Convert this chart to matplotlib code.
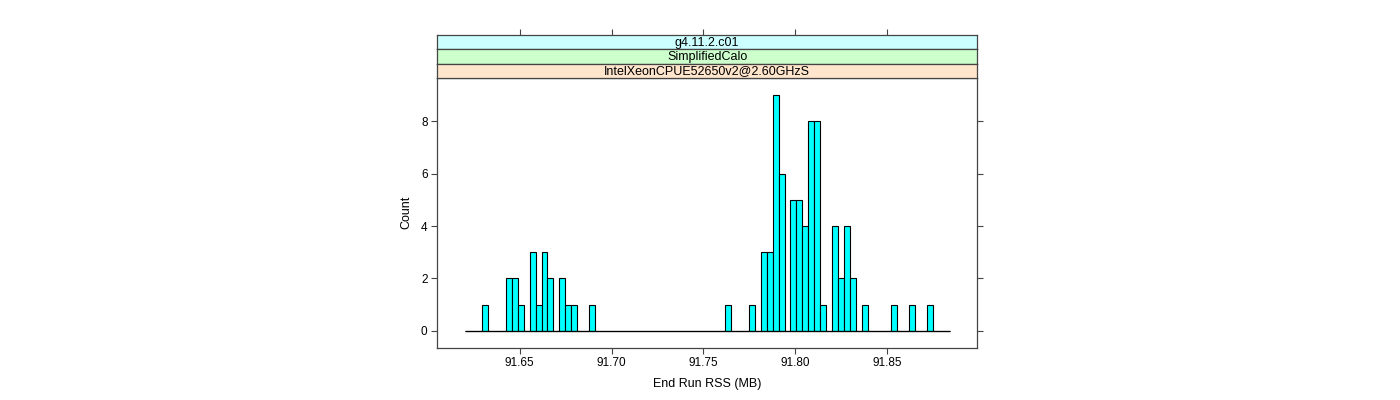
import numpy as np
import matplotlib
matplotlib.use("Agg")
import matplotlib.pyplot as plt

# ---- data ----
strip_labels = ["g4.11.2.c01", "SimplifiedCalo", "IntelXeonCPUE52650v2@2.60GHzS"]
first_break = 91.6200
bin_width = 0.003224
counts = [0, 0, 0, 1, 0, 0, 0, 2, 2, 1,
          0, 3, 1, 3, 2, 0, 2, 1, 1, 0,
          0, 1, 0, 0, 0, 0, 0, 0, 0, 0,
          0, 0, 0, 0, 0, 0, 0, 0, 0, 0,
          0, 0, 0, 0, 1, 0, 0, 0, 1, 0,
          3, 3, 9, 6, 0, 5, 5, 4, 8, 8,
          1, 0, 4, 2, 4, 2, 0, 1, 0, 0,
          0, 0, 1, 0, 0, 1, 0, 0, 1, 0,
          0, 0]
x_ticks = [91.65, 91.70, 91.75, 91.80, 91.85]
x_tick_labels = ["91.65", "91.70", "91.75", "91.80", "91.85"]
y_ticks = [0, 2, 4, 6, 8]
x_label = "End Run RSS (MB)"
y_label = "Count"

plt.rcParams['font.family'] = ['Liberation Sans', 'DejaVu Sans']
FS = 8.5
frame_col = "#444444"

edges = first_break + bin_width * np.arange(len(counts) + 1)
centers = (edges[:-1] + edges[1:]) / 2

fig = plt.figure(figsize=(14, 4), dpi=100)
W, H = 1400.0, 400.0
left, right = 437.3 / W, 977 / W
bottom, top = 1 - 347.7 / H, 1 - 77.7 / H
ax = fig.add_axes([left, bottom, right - left, top - bottom])

ax.hist(centers, bins=edges, weights=counts, color="#00FFFF",
        edgecolor="black", linewidth=0.8)
ax.hlines(0, edges[0], edges[-1], color="black", linewidth=0.9, zorder=3)

ax.set_xlim(91.6052, 91.8988)
ax.set_ylim(-0.649, 9.666)
ax.set_xticks(x_ticks)
ax.set_xticklabels(x_tick_labels)
ax.set_yticks(y_ticks)
ax.tick_params(axis="both", direction="out", length=4, width=0.8,
               color=frame_col, labelsize=FS, pad=3)
ax.tick_params(axis="y", right=True, labelright=False)
for s in ax.spines.values():
    s.set_color(frame_col)
    s.set_linewidth(0.9)
ax.set_xlabel(x_label, fontsize=FS + 0.5, labelpad=6)
ax.set_ylabel(y_label, fontsize=FS + 0.5, labelpad=6)

# strips
strip_bounds = [(34.7, 49.3), (49.3, 63.7), (63.7, 77.7)]
strip_colors = ["#CCFFFF", "#CCFFCC", "#FFE5CC"]
for i, (lab, (yt, yb), col) in enumerate(zip(strip_labels, strip_bounds, strip_colors)):
    sax = fig.add_axes([left, 1 - yb / H, right - left, (yb - yt) / H])
    sax.set_facecolor(col)
    sax.set_xlim(ax.get_xlim())
    sax.set_ylim(0, 1)
    sax.set_yticks([])
    if i == 0:
        sax.set_xticks(x_ticks)
        sax.tick_params(axis="x", top=True, bottom=False, labeltop=False,
                        labelbottom=False, direction="out", length=4,
                        width=0.8, color=frame_col)
    else:
        sax.set_xticks([])
    for s in sax.spines.values():
        s.set_color(frame_col)
        s.set_linewidth(0.9)
    sax.text(0.5, 0.45, lab, transform=sax.transAxes, ha="center",
             va="center", fontsize=FS + 0.5)

fig.savefig("out.png", dpi=100)
